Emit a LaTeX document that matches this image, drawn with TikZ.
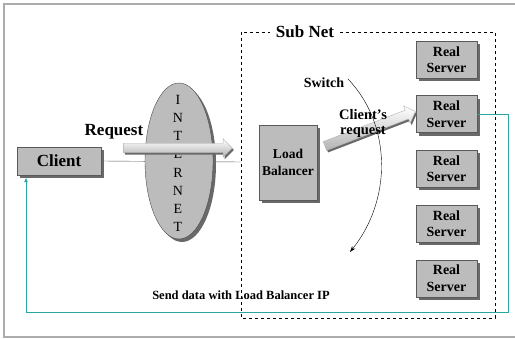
\documentclass[tikz,border=0pt]{standalone}
\usepackage{fontspec}
\setmainfont{Liberation Serif}
\usetikzlibrary{arrows.meta,shapes.geometric,shapes.arrows,shadows}

\definecolor{boxgray}{RGB}{188,188,188}
\definecolor{shadegray}{RGB}{105,105,105}
\definecolor{linkteal}{RGB}{40,165,165}

\begin{document}
\begin{tikzpicture}[x=1pt, y=-1pt,
    box/.style={draw=gray!70!black, fill=boxgray, align=center, inner sep=0pt,
        drop shadow={shadow xshift=3pt, shadow yshift=-3pt, fill=shadegray, opacity=1}},
    server/.style={box, minimum width=61pt, minimum height=37pt,
        font=\fontsize{14}{16.5}\selectfont\bfseries},
    bigarrow/.style={single arrow, draw=gray!60, top color=white, bottom color=gray!60,
        inner xsep=0pt, inner ysep=4.5pt, single arrow head extend=4.5pt,
        single arrow head indent=0pt,
        drop shadow={shadow xshift=1.5pt, shadow yshift=-2pt, fill=shadegray, opacity=1}},
    lbl/.style={font=\fontsize{#1}{#1}\selectfont\bfseries}]

    \useasboundingbox (0,0) rectangle (515,339);
    % Outer frame
    \draw[gray!65, line width=1.2pt] (4,4) rectangle (525,337);

    % Sub Net
    \draw[dashed, line width=0.9pt] (241,32) rectangle (495,318);
    \node[lbl=17, fill=white, inner xsep=6pt] (subnet) at (305,32) {Sub Net};
    \coordinate (subin) at (241,162);

    % Client and link into the Sub Net
    \node[box, minimum width=84pt, minimum height=28pt,
        font=\fontsize{17}{17}\selectfont\bfseries] (client) at (59,161) {Client};
    \draw[gray!70!black] (client.east) -- (subin);

    % Internet
    \node[ellipse, draw=gray!60!black, fill=boxgray, minimum width=68pt, minimum height=156pt,
        drop shadow={shadow xshift=3pt, shadow yshift=-3pt, fill=shadegray, opacity=1}]
        (net) at (179,161) {};
    \node[align=center, font=\fontsize{14}{18.2}\selectfont] (netlabel) at (178,163.5)
        {I\\N\\T\\E\\R\\N\\E\\T};

    % Request
    \node[bigarrow, minimum height=109pt] (reqarrow) at (175.5,148) {};
    \node[lbl=17] (request) at (114,132) {Request};

    % Load Balancer
    \node[box, minimum width=58pt, minimum height=75pt,
        font=\fontsize{13.5}{17}\selectfont\bfseries] (lb) at (288,162.5) {Load\\Balancer};

    % Real Servers
    \foreach \i in {1,...,5}
        \node[server] (rs\i) at (446.5,{59.5+(\i-1)*54.7}) {Real\\Server};

    % Client's request
    \node[bigarrow, minimum height=97pt, rotate=21] (lbarrow) at (368,129.5) {};
    \node[align=center, font=\fontsize{14.5}{15}\selectfont\bfseries] (lbreq) at (363,124)
        {Client's\\request};

    % Switch
    \node[lbl=14] (switch) at (324,83) {Switch};
    \coordinate (swtop) at (348,79);
    \coordinate (swend) at (350,252);
    \draw[-{Stealth[length=6pt,width=4pt]}] (swtop) .. controls (392,125) and (392,200) .. (swend);

    % Reply back to the client
    \coordinate (retR) at (508,313);
    \coordinate (retL) at (26,313);
    \draw[linkteal, line width=1pt, -{Latex[length=5pt,width=4pt]}, shorten >=2pt]
        (rs2.east) -| (retR) -- (retL) -- (retL |- client.south);
    \node[lbl=12.5] (senddata) at (241,295) {Send data with Load Balancer IP};

\end{tikzpicture}
\end{document}
